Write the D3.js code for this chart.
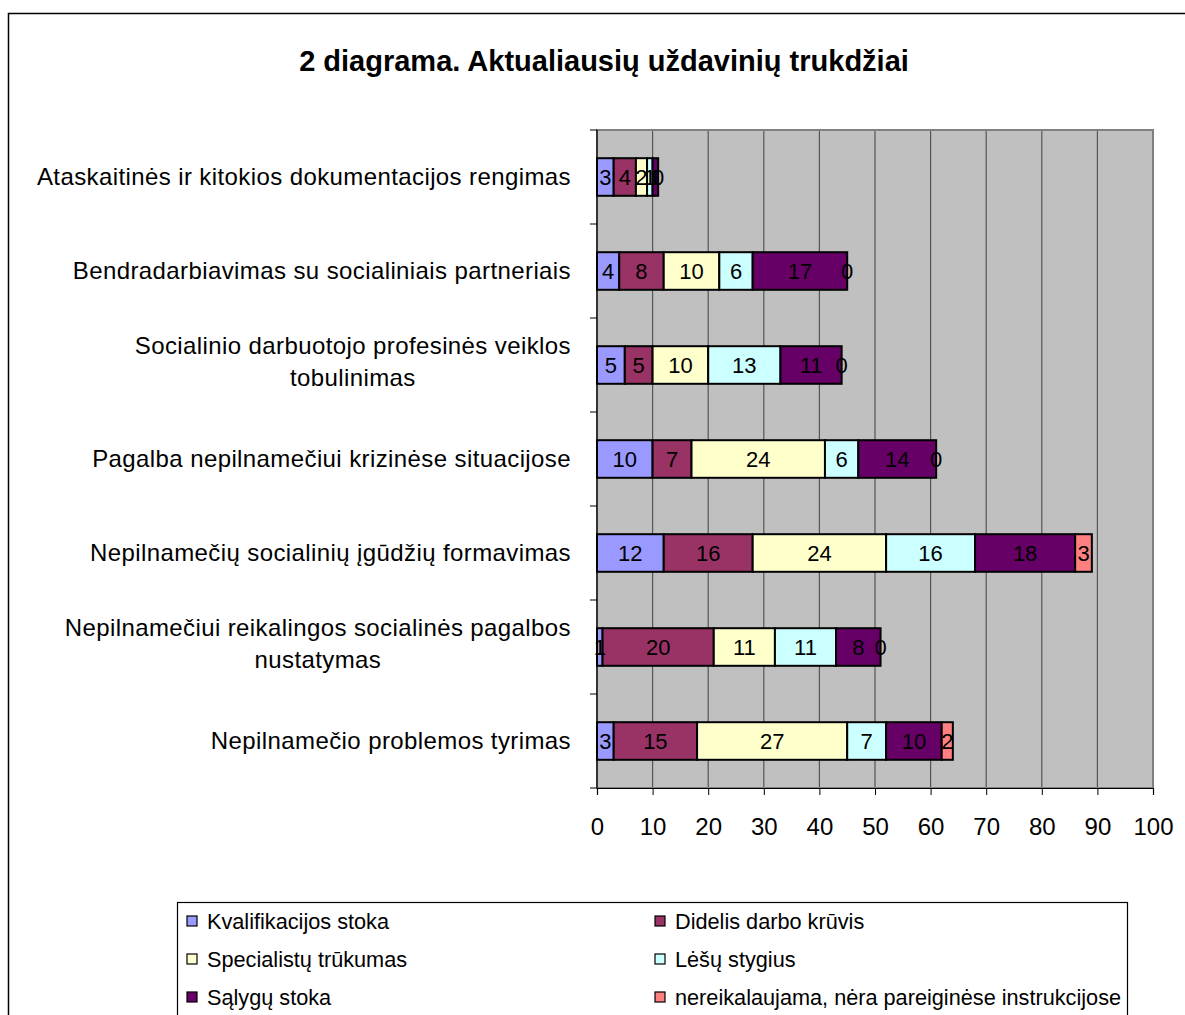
<!DOCTYPE html>
<html>
<head>
<meta charset="utf-8">
<script src="https://cdn.jsdelivr.net/npm/d3@7"></script>
<style>
  body { margin: 0; background: #fff; }
  svg { font-family: "Liberation Sans", Arial, sans-serif; }
</style>
</head>
<body>
<svg id="chart" width="1185" height="1015"></svg>
<script>
// categories, top to bottom as drawn
const categories = [
  ["Ataskaitinės ir kitokios dokumentacijos rengimas"],
  ["Bendradarbiavimas su socialiniais partneriais"],
  ["Socialinio darbuotojo profesinės veiklos", "tobulinimas"],
  ["Pagalba nepilnamečiui krizinėse situacijose"],
  ["Nepilnamečių socialinių įgūdžių formavimas"],
  ["Nepilnamečiui reikalingos socialinės pagalbos", "nustatymas"],
  ["Nepilnamečio problemos tyrimas"]
];
const seriesNames = [
  "Kvalifikacijos stoka",
  "Didelis darbo krūvis",
  "Specialistų trūkumas",
  "Lėšų stygius",
  "Sąlygų stoka",
  "nereikalaujama, nėra pareiginėse instrukcijose"
];
const kvalifikacija = [3, 4, 5, 10, 12, 1, 3];
const kruvis        = [4, 8, 5, 7, 16, 20, 15];
const specialistai  = [2, 10, 10, 24, 24, 11, 27];
const lesos         = [1, 6, 13, 6, 16, 11, 7];
const salygos       = [1, 17, 11, 14, 18, 8, 10];
const nereikalaujama = [0, 0, 0, 0, 3, 0, 2];
const xTicks = [0, 10, 20, 30, 40, 50, 60, 70, 80, 90, 100];
const colors = ["#9999FF", "#993366", "#FFFFCC", "#CCFFFF", "#660066", "#FF8080"];

const allSeries = [kvalifikacija, kruvis, specialistai, lesos, salygos, nereikalaujama];
const rows = categories.map((c, i) => {
  const r = { idx: i };
  allSeries.forEach((s, k) => r["s" + k] = s[i]);
  return r;
});
const keys = allSeries.map((s, k) => "s" + k);

const svg = d3.select('#chart');

// outer frame
svg.append('rect')
  .attr('x', 8.5).attr('y', 13.5)
  .attr('width', 1200).attr('height', 1100)
  .attr('fill', 'none')
  .attr('stroke', '#000')
  .attr('stroke-width', 1.5);

svg.append('text')
  .attr('x', 604).attr('y', 71)
  .attr('text-anchor', 'middle')
  .style('font-size', '29px')
  .style('font-weight', 'bold')
  .text('2 diagrama. Aktualiausių uždavinių trukdžiai');

const plot = { left: 597, right: 1153, top: 130, bottom: 788 };

const x = d3.scaleLinear().domain([0, 100]).range([plot.left, plot.right]);
const y = d3.scaleBand()
  .domain(d3.range(categories.length))
  .range([plot.top, plot.bottom])
  .paddingInner(0.6).paddingOuter(0.3);

// plot background
svg.append('rect')
  .attr('x', plot.left).attr('y', plot.top)
  .attr('width', plot.right - plot.left).attr('height', plot.bottom - plot.top)
  .attr('fill', '#C0C0C0');

// gridlines
svg.append('g')
  .selectAll('line')
  .data(xTicks.slice(1, -1))
  .join('line')
  .attr('x1', d => x(d)).attr('x2', d => x(d))
  .attr('y1', plot.top).attr('y2', plot.bottom)
  .attr('stroke', '#555')
  .attr('stroke-width', 1.2);

// plot border
svg.append('rect')
  .attr('x', plot.left).attr('y', plot.top)
  .attr('width', plot.right - plot.left).attr('height', plot.bottom - plot.top)
  .attr('fill', 'none')
  .attr('stroke', '#808080')
  .attr('stroke-width', 2);

// x axis
const xAxis = svg.append('g')
  .attr('transform', `translate(0,${plot.bottom})`)
  .call(d3.axisBottom(x).tickValues(xTicks).tickSize(7).tickPadding(23));
xAxis.select('.domain').attr('stroke', '#000').attr('stroke-width', 1.2);
xAxis.selectAll('.tick line').attr('stroke', '#000');
xAxis.selectAll('.tick text')
  .style('font-size', '24px')
  .style('font-family', '"Liberation Sans", Arial, sans-serif')
  .attr('fill', '#000');

// y axis line + ticks between categories
const bandStep = (plot.bottom - plot.top) / categories.length;
svg.append('line')
  .attr('x1', plot.left).attr('x2', plot.left)
  .attr('y1', plot.top).attr('y2', plot.bottom)
  .attr('stroke', '#000').attr('stroke-width', 1.2);
svg.append('g')
  .selectAll('line')
  .data(d3.range(categories.length + 1))
  .join('line')
  .attr('x1', plot.left - 7).attr('x2', plot.left)
  .attr('y1', d => plot.top + d * bandStep)
  .attr('y2', d => plot.top + d * bandStep)
  .attr('stroke', '#000');

// category labels
const catLabels = svg.append('g')
  .selectAll('text')
  .data(categories)
  .join('text')
  .attr('text-anchor', 'middle')
  .style('font-size', '24px')
  .style('letter-spacing', '0.4px')
  .attr('y', (d, i) => y(i) + y.bandwidth() / 2 + 8 - (d.length - 1) * 19);
catLabels.each(function(d) {
  const t = d3.select(this);
  d.forEach((line, j) => {
    t.append('tspan').attr('dy', j === 0 ? 0 : 32).text(line);
  });
});
// right-align the label block, centering lines within it
catLabels.each(function() {
  const t = d3.select(this);
  let w = 0;
  t.selectAll('tspan').each(function() { w = Math.max(w, this.getComputedTextLength()); });
  t.selectAll('tspan').attr('x', 571 - w / 2);
});

// stacked bars
const stacked = d3.stack().keys(keys)(rows);
const layers = svg.append('g')
  .selectAll('g')
  .data(stacked)
  .join('g')
  .attr('fill', (d, i) => colors[i]);

layers.selectAll('rect')
  .data(d => d)
  .join('rect')
  .attr('x', d => x(d[0]))
  .attr('y', d => y(d.data.idx))
  .attr('width', d => x(d[1]) - x(d[0]))
  .attr('height', y.bandwidth())
  .attr('stroke', '#000')
  .attr('stroke-width', 2);

// data labels
const labelG = svg.append('g');
stacked.forEach((layer) => {
  labelG.append('g')
    .selectAll('text')
    .data(layer)
    .join('text')
    .attr('x', d => (x(d[0]) + x(d[1])) / 2)
    .attr('y', d => y(d.data.idx) + y.bandwidth() / 2 + 8)
    .attr('text-anchor', 'middle')
    .style('font-size', '22px')
    .attr('fill', '#000')
    .text(d => d[1] - d[0]);
});

// legend
const legend = svg.append('g');
legend.append('rect')
  .attr('x', 177.5).attr('y', 902.5)
  .attr('width', 950).attr('height', 130)
  .attr('fill', '#fff')
  .attr('stroke', '#000')
  .attr('stroke-width', 1.2);

const legendItems = legend.selectAll('g.item')
  .data(seriesNames)
  .join('g')
  .attr('class', 'item')
  .attr('transform', (d, i) => `translate(${i % 2 === 0 ? 187 : 655},${921 + Math.floor(i / 2) * 38})`);
legendItems.append('rect')
  .attr('x', 0).attr('y', -5)
  .attr('width', 10).attr('height', 10)
  .attr('fill', (d, i) => colors[i])
  .attr('stroke', '#000')
  .attr('stroke-width', 1.2);
legendItems.append('text')
  .attr('x', 20).attr('y', 8)
  .style('font-size', '21.7px')
  .text(d => d);
</script>
</body>
</html>
